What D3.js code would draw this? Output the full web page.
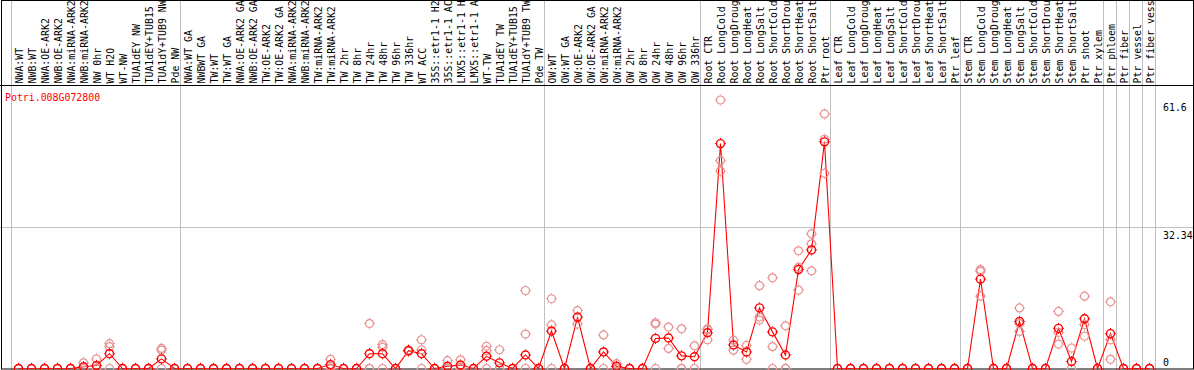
<!DOCTYPE html>
<html>
<head>
<meta charset="utf-8">
<script src="https://cdn.jsdelivr.net/npm/d3@7"></script>
<style>
  body { margin: 0; background: #fff; }
  text { font-family: "DejaVu Sans Mono", monospace; font-size: 9.9px; }
</style>
</head>
<body>
<svg id="chart" width="1194" height="370"></svg>
<script>
// サンプル名(見出しに収まる部分)
var samples = [
  'NWA:WT', 'NWB:WT', 'NWA:OE-ARK2', 'NWB:OE-ARK2', 'NWA:miRNA-ARK2', 'NWB:miRNA-ARK2',
  'NW 0hr', 'WT H2O', 'WT-NW', 'TUA1dEY NW', 'TUA1dEY+TUB15', 'TUA1dY+TUB9 NW', 'Pde NW',
  'NWA:WT GA', 'NWBWT GA', 'TW:WT', 'TW:WT GA', 'NWA:OE-ARK2 GA', 'NWB:OE-ARK2 GA',
  'TW:OE-ARK2', 'TW:OE-ARK2 GA', 'NWA:miRNA-ARK2', 'NWB:miRNA-ARK2', 'TW:miRNA-ARK2', 'TW:miRNA-ARK2',
  'TW 2hr', 'TW 8hr', 'TW 24hr', 'TW 48hr', 'TW 96hr', 'TW 336hr', 'WT ACC',
  '35S::etr1-1 H2', '35S::etr1-1 AC', 'LMX5::etr1-1 H', 'LMX5::etr1-1 A',
  'WT-TW', 'TUA1dEY TW', 'TUA1dEY+TUB15', 'TUA1dY+TUB9 TW', 'Pde TW',
  'OW:WT', 'OW:WT GA', 'OW:OE-ARK2', 'OW:OE-ARK2 GA', 'OW:miRNA-ARK2', 'OW:miRNA-ARK2',
  'OW 2hr', 'OW 8hr', 'OW 24hr', 'OW 48hr', 'OW 96hr', 'OW 336hr',
  'Root CTR', 'Root LongCold', 'Root LongDroug', 'Root LongHeat', 'Root LongSalt',
  'Root ShortCold', 'Root ShortDrou', 'Root ShortHeat', 'Root ShortSalt', 'Ptr root',
  'Leaf CTR', 'Leaf LongCold', 'Leaf LongDroug', 'Leaf LongHeat', 'Leaf LongSalt',
  'Leaf ShortCold', 'Leaf ShortDrou', 'Leaf ShortHeat', 'Leaf ShortSalt', 'Ptr leaf',
  'Stem CTR', 'Stem LongCold', 'Stem LongDroug', 'Stem LongHeat', 'Stem LongSalt',
  'Stem ShortCold', 'Stem ShortDrou', 'Stem ShortHeat', 'Stem ShortSalt', 'Ptr shoot',
  'Ptr xylem', 'Ptr phloem', 'Ptr fiber', 'Ptr vessel', 'Ptr fiber vess'
];

// 平均値
var means = [
  0, 0, 0, 0, 0, 0.4, 0.7, 3.4, 0, 0, 0, 2.2, 0,
  0, 0, 0, 0, 0, 0, 0, 0, 0, 0, 0, 0.9,
  0, 0, 3.4, 3.4, 0, 4.1, 3.4, 0, 0.5, 0.8, 0,
  2.8, 1.3, 0, 3.1, 0,
  8.6, 0, 11.8, 0, 3.8, 0.5, 0, 0, 6.9, 7.0, 2.9, 2.7,
  8.2, 51.6, 5.4, 3.8, 13.9, 8.4, 3.1, 22.7, 27.2, 52.0,
  0, 0, 0, 0, 0, 0, 0, 0, 0, 0,
  0, 20.5, 0, 0, 10.8, 0, 0, 9.2, 1.6, 11.4,
  0, 8.0, 0, 0, 0
];

// 反復ごとの値
var reps = [
  [0,0,0], [0,0,0], [0,0,0], [0,0,0], [0,0,0], [1.3,0,0], [2.2,0,0], [5.7,5.0,0],
  [0,0,0], [0,0,0], [0,0,0], [4.6,4.2,0], [0,0,0],
  [0,0,0], [0,0,0], [0,0,0], [0,0,0], [0,0,0], [0,0,0], [0,0,0], [0,0,0],
  [0,0,0], [0,0,0], [0,0,0], [2.1,0.6,0],
  [0,0,0], [0,0,0], [10.3,0,0], [5.5,4.9,0], [0,0,0], [4.3,4.1,3.9], [6.6,4.3,0],
  [0,0,0], [1.8,0,0], [2.0,0.4,0], [0,0,0],
  [5.1,4.1,0], [4.3,0,0], [0,0,0], [17.9,7.9,0], [0,0,0],
  [16.0,10.0,0], [0,0,0], [13.3,10.2], [0,0,0], [7.7,0], [1.1,0.4,0],
  [0,0,0], [0,0,0], [10.5,10.2,0], [9.5,4.6], [9.1,0,0], [5.2,0],
  [9.1,8.9,6.6], [61.6,47.7,45.3], [6.5,4.2], [5.3,2.1], [19.0,11.8,11.1],
  [20.8,5.0,0], [9.8,0,0], [27.0,23.2,18.0], [30.9,28.6,22.4], [58.4,52.6,44.8],
  [0,0,0], [0,0,0], [0,0,0], [0,0,0], [0,0,0], [0,0,0], [0,0,0], [0,0,0], [0,0,0], [0,0,0],
  [0,0,0], [22.7,22.3,16.6], [0,0,0], [0,0,0], [13.9,10.3,8.5], [0,0,0], [0,0,0],
  [13.1,8.3,5.6], [4.7,0], [16.6,10.1,7.4],
  [0,0,0], [15.3,6.6,2.1], [0,0,0], [0,0,0], [0,0,0]
];

// グループの区切り(この番号の列の前に線を引く)
var groupBreaks = [0, 13, 41, 53, 63, 73, 84, 85, 86, 87, 88];

// 目盛
var yTicks = [61.6, 32.34, 0];
var geneName = 'Potri.008G072800';

var width = 1194, height = 370;
var headerBottom = 85.5;

var svg = d3.select('#chart');

var x = d3.scaleBand()
  .domain(d3.range(samples.length))
  .range([11.5, 11.5 + 13 * samples.length]);

var y = d3.scaleLinear()
  .domain([0, 61.6])
  .range([368.5, 100]);

function cx(i) { return x(i) + 7; }
function bx(k) { return k < samples.length ? x(k) : x.range()[1]; }

//区切り線
svg.selectAll('line.sep')
  .data(groupBreaks)
  .enter()
  .append('line')
  .attr('x1', bx).attr('x2', bx)
  .attr('y1', 0).attr('y2', height)
  .attr('stroke', '#c0c0c0').attr('stroke-width', 1);

// 32.34 の横線
svg.append('line')
  .attr('x1', 0).attr('x2', width)
  .attr('y1', y(32.34)).attr('y2', y(32.34))
  .attr('stroke', '#c0c0c0');

// サンプル名(縦書き)
svg.selectAll('text.sample')
  .data(samples)
  .enter()
  .append('text')
  .attr('transform', function(d, i) {
    return 'translate(' + (cx(i) + 4) + ',' + 83.5 + ') rotate(-90)';
  })
  .attr('fill', '#000')
  .text(function(d) { return d; });

// 枠線
svg.append('line')
  .attr('x1', 0).attr('x2', width)
  .attr('y1', headerBottom).attr('y2', headerBottom)
  .attr('stroke', '#000');
svg.append('rect')
  .attr('x', 1.5).attr('y', 0.5)
  .attr('width', width - 2).attr('height', 368.5)
  .attr('fill', 'none').attr('stroke', '#000');

// 平均の折れ線
var line = d3.line()
  .x(function(d, i) { return cx(i); })
  .y(function(d) { return y(d); });

svg.append('path')
  .datum(means)
  .attr('d', line)
  .attr('fill', 'none')
  .attr('stroke', '#ff0000')
  .attr('stroke-width', 1.1);

// マーカー
function marker(sel, color, sw) {
  sel.append('circle')
    .attr('r', 4)
    .attr('fill', 'none')
    .attr('stroke', color)
    .attr('stroke-width', sw);
  sel.append('path')
    .attr('d', 'M0,-5.6V-4.6M0,4.6V5.6M-5.6,0H-4.6M4.6,0H5.6')
    .attr('stroke', color)
    .attr('stroke-width', 1);
}

var repPoints = [];
reps.forEach(function(r, i) {
  r.forEach(function(v) { repPoints.push({ i: i, v: v }); });
});

svg.selectAll('g.rep')
  .data(repPoints)
  .enter()
  .append('g')
  .attr('transform', function(d) { return 'translate(' + cx(d.i) + ',' + y(d.v) + ')'; })
  .call(marker, '#e89090', 1.2);

svg.selectAll('g.mean')
  .data(means)
  .enter()
  .append('g')
  .attr('transform', function(d, i) { return 'translate(' + cx(i) + ',' + y(d) + ')'; })
  .call(marker, '#ff0000', 1.4);

// 目盛の数字
svg.selectAll('text.tick')
  .data(yTicks)
  .enter()
  .append('text')
  .attr('x', 1163)
  .attr('y', function(d) {
    return d === 0 ? y(d) - 3 : y(d) + 11;
  })
  .attr('fill', '#000')
  .text(function(d) { return d; });

// 遺伝子名
svg.append('text')
  .attr('x', 5)
  .attr('y', 101)
  .attr('fill', '#ff0000')
  .text(geneName);
</script>
</body>
</html>
